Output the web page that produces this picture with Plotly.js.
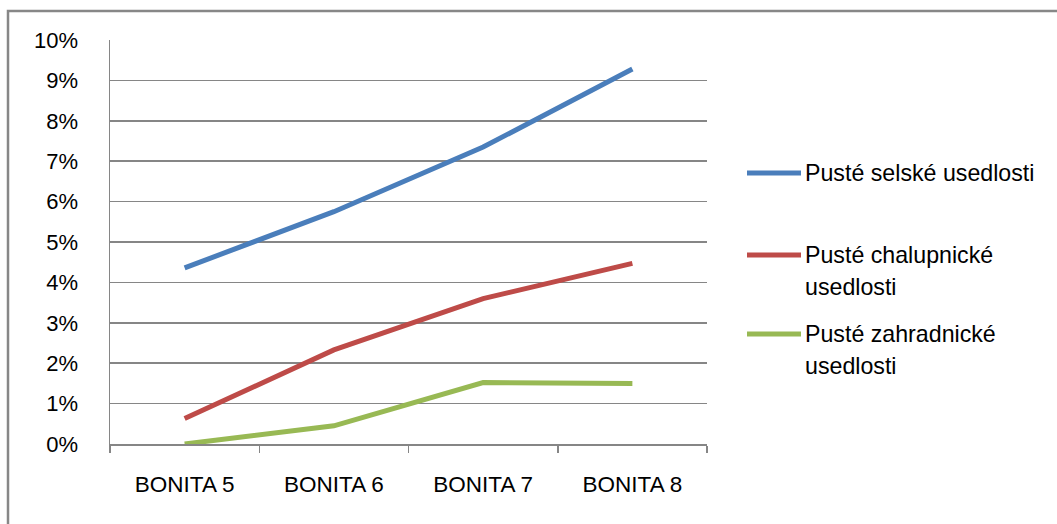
<!DOCTYPE html>
<html>
<head>
<meta charset="utf-8">
<script src="https://cdn.plot.ly/plotly-3.0.1.min.js"></script>
<style>
html,body{margin:0;padding:0;background:#fff;}
#chart{width:1057px;height:524px;}
</style>
</head>
<body>
<div id="chart"></div>
<script>
const categories = ["BONITA 5", "BONITA 6", "BONITA 7", "BONITA 8"];
const seriesNames = ["Pusté selské usedlosti", "Pusté chalupnické usedlosti", "Pusté zahradnické usedlosti"];
const legendLabels = [["Pusté selské usedlosti"], ["Pusté chalupnické", "usedlosti"], ["Pusté zahradnické", "usedlosti"]];
const selske = [0.0436, 0.0575, 0.0735, 0.0928];
const chalupnicke = [0.0063, 0.0233, 0.0360, 0.0447];
const zahradnicke = [0.0000, 0.0045, 0.0152, 0.0150];
const yTickVals = [0, 0.01, 0.02, 0.03, 0.04, 0.05, 0.06, 0.07, 0.08, 0.09, 0.10];
const yTickText = ["0%", "1%", "2%", "3%", "4%", "5%", "6%", "7%", "8%", "9%", "10%"];

const colors = ["#4a7ebb", "#be4b48", "#98b954"];
const allSeries = [selske, chalupnicke, zahradnicke];
const FONT = "'Liberation Sans', Arial, sans-serif";

const W = 1057, H = 524;
const L = 110, R = 350, T = 40, B = 80;
const pw = W - L - R, ph = H - T - B;
const px = v => (v - L) / pw;
const py = v => (H - B - v) / ph;

const traces = allSeries.map((s, i) => ({
  type: "scatter", mode: "lines", name: seriesNames[i],
  x: categories, y: s,
  line: {color: colors[i], width: 5},
  showlegend: false, hoverinfo: "skip"
}));

const shapes = [];
const annotations = [];
// outer chart border
shapes.push({type: "rect", xref: "paper", yref: "paper",
  x0: px(8), x1: px(1080), y0: py(560), y1: py(11),
  line: {color: "#878787", width: 2.5}, fillcolor: "rgba(0,0,0,0)", layer: "below"});

// manual legend
const legendY = [173, 255, 334];
const lineSpacing = 31.5;
legendLabels.forEach((lines, i) => {
  shapes.push({type: "line", xref: "paper", yref: "paper",
    x0: px(747), x1: px(801), y0: py(legendY[i]), y1: py(legendY[i]),
    line: {color: colors[i], width: 5}});
  lines.forEach((t, j) => {
    annotations.push({xref: "paper", yref: "paper", x: px(803), y: py(legendY[i] + j * lineSpacing),
      xanchor: "left", yanchor: "middle", showarrow: false, text: t,
      font: {family: FONT, size: 23.2, color: "#000"}});
  });
});

const layout = {
  width: W, height: H,
  margin: {l: L, r: R, t: T, b: B, pad: 0},
  paper_bgcolor: "#fff", plot_bgcolor: "#fff",
  showlegend: false,
  font: {family: FONT, size: 22, color: "#000"},
  xaxis: {
    type: "category", range: [-0.5, 3.5],
    showgrid: false, zeroline: false,
    showline: true, linecolor: "#868686", linewidth: 1.5,
    ticks: "outside", tickson: "boundaries", ticklen: 7, tickcolor: "#868686", tickwidth: 1.5,
    ticklabelstandoff: 19,
    tickfont: {family: FONT, size: 22.5, color: "#000"}
  },
  yaxis: {
    range: [0, 0.1],
    tickvals: yTickVals, ticktext: yTickText,
    showgrid: true, gridcolor: "#868686", gridwidth: 1.5,
    zeroline: false,
    showline: true, linecolor: "#868686", linewidth: 1.5,
    ticks: "", ticklabelstandoff: 26,
    tickfont: {family: FONT, size: 22, color: "#000"}
  },
  shapes: shapes,
  annotations: annotations
};

Plotly.newPlot("chart", traces, layout, {displayModeBar: false, staticPlot: true});
</script>
</body>
</html>
